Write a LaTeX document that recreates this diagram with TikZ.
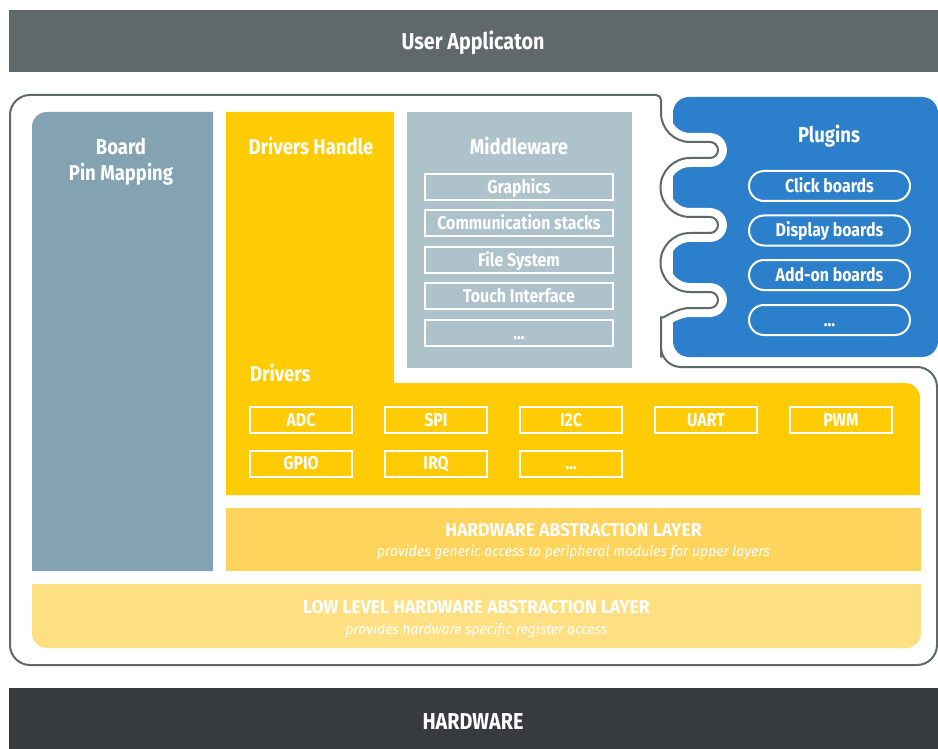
\documentclass[tikz,border=0pt]{standalone}
\usepackage{fontspec}
\setmainfont{Fira Sans}[FakeStretch=0.86]
\newfontfamily\widefont{Fira Sans}[FakeStretch=0.95]
\definecolor{topgray}{RGB}{95,104,107}
\definecolor{botgray}{RGB}{55,59,63}
\definecolor{pinblue}{RGB}{131,162,178}
\definecolor{midgray}{RGB}{173,194,202}
\definecolor{drvyellow}{RGB}{255,203,5}
\definecolor{halyellow}{RGB}{254,212,92}
\definecolor{llyellow}{RGB}{254,224,130}
\definecolor{plugblue}{RGB}{44,127,203}
\definecolor{outgray}{RGB}{95,104,107}
\begin{document}
\begin{tikzpicture}[x=1pt,y=-1pt,
  head/.style={text=white,font=\bfseries\fontsize{21.5}{26}\selectfont,inner sep=0pt,text height=14.8pt,text depth=0pt},
  lbl/.style={text=white,font=\bfseries\fontsize{18.5}{20}\selectfont,text height=12.75pt,text depth=0pt},
  wbox/.style={draw=white,line width=2pt,minimum width=188pt,minimum height=26pt,inner sep=0pt,lbl},
  drvbox/.style={wbox,minimum width=102pt},
  pill/.style={draw=white,line width=2pt,rounded corners=15pt,minimum width=161pt,minimum height=30pt,inner sep=0pt,lbl},
  bartext/.style={text=white,font=\bfseries\fontsize{23}{26}\selectfont,inner sep=0pt,text height=15.85pt,text depth=0pt},
  layertitle/.style={text=white,font=\widefont\bfseries\fontsize{18.5}{20}\selectfont,inner sep=0pt,text height=12.75pt,text depth=0pt},
  layersub/.style={text=white,font=\widefont\itshape\fontsize{14.7}{17}\selectfont,inner sep=0pt,text height=10.1pt,text depth=0pt}]
\useasboundingbox (0,0) rectangle (938,749);

% top and bottom bars
\fill[topgray] (9,10) rectangle (938,72);
\node[bartext] (ua) at (473,42) {User Applicaton};
\fill[botgray] (9,688) rectangle (938,749);
\node[bartext] (hw) at (473,722) {HARDWARE};

% plugins block
\fill[plugblue,rounded corners=16pt] (673,97) rectangle (938,357);

% outer outline with wavy plugin edge
\filldraw[fill=white,draw=outgray,line width=2pt,line join=round,preaction={draw=white,line width=18pt,line join=round}]
  (710,142) -- (690,142) arc[start angle=90,end angle=180,radius=29]
  [rounded corners=5pt] -- (661,95) [rounded corners=20pt] -- (10,95) -- (10,665) -- (937,665) -- (937,367) -- (661,367) -- (661,337)
  [sharp corners] arc[start angle=180,end angle=270,radius=29]
  -- (710,308) arc[start angle=90,end angle=-90,radius=8]
  -- (690,292) arc[start angle=90,end angle=270,radius=29.5]
  -- (710,233) arc[start angle=90,end angle=-90,radius=8]
  -- (690,217) arc[start angle=90,end angle=270,radius=29.5]
  -- (710,158) arc[start angle=90,end angle=-90,radius=8] -- cycle;

\node[head] (plg) at (829,135) {Plugins};
\node[pill] (p1) at (829.5,186) {Click boards};
\node[pill] (p2) at (829.5,230.5) {Display boards};
\node[pill] (p3) at (829.5,275) {Add-on boards};
\node[pill] (p4) at (829.5,320) {...};

% board pin mapping
\fill[pinblue] (32,571) -- (32,127) arc[start angle=180,end angle=270,radius=15] -- (213,112) -- (213,571) -- cycle;
\node[head] (bpm1) at (121,147) {Board};
\node[head] (bpm2) at (121,173) {Pin Mapping};

% drivers L-shape
\fill[drvyellow] (226,112) -- (394,112) -- (394,383) -- (905,383) arc[start angle=270,end angle=360,radius=15] -- (920,495) -- (226,495) -- cycle;
\node[head] (dh) at (311,147) {Drivers Handle};
\node[head,anchor=west] (drv) at (250,374) {Drivers};
\node[drvbox] (adc) at (301,420) {ADC};
\node[drvbox] (spi) at (436,420) {SPI};
\node[drvbox] (i2c) at (571,420) {I2C};
\node[drvbox] (uart) at (706,420) {UART};
\node[drvbox] (pwm) at (841,420) {PWM};
\node[drvbox] (gpio) at (301,463.5) {GPIO};
\node[drvbox] (irq) at (436,463.5) {IRQ};
\node[drvbox] (dots) at (571,463.5) {...};

% middleware
\fill[midgray] (407,112) rectangle (632,368);
\node[head] (mw) at (519,147) {Middleware};
\node[wbox] (m1) at (519,187) {Graphics};
\node[wbox] (m2) at (519,223) {Communication stacks};
\node[wbox] (m3) at (519,260) {File System};
\node[wbox] (m4) at (519,296) {Touch Interface};
\node[wbox] (m5) at (519,333) {...};

% HAL
\fill[halyellow] (226,508) rectangle (921,571);
\node[layertitle] (hal) at (573.5,530) {HARDWARE ABSTRACTION LAYER};
\node[layersub] (halsub) at (573.5,551) {provides generic access to peripheral modules for upper layers};

% LL HAL
\fill[llyellow] (32,584) -- (921,584) -- (921,633) arc[start angle=0,end angle=90,radius=15] -- (47,648) arc[start angle=90,end angle=180,radius=15] -- cycle;
\node[layertitle] (ll) at (476.5,607) {LOW LEVEL HARDWARE ABSTRACTION LAYER};
\node[layersub] (llsub) at (476.5,629) {provides hardware specific register access};
\end{tikzpicture}
\end{document}
